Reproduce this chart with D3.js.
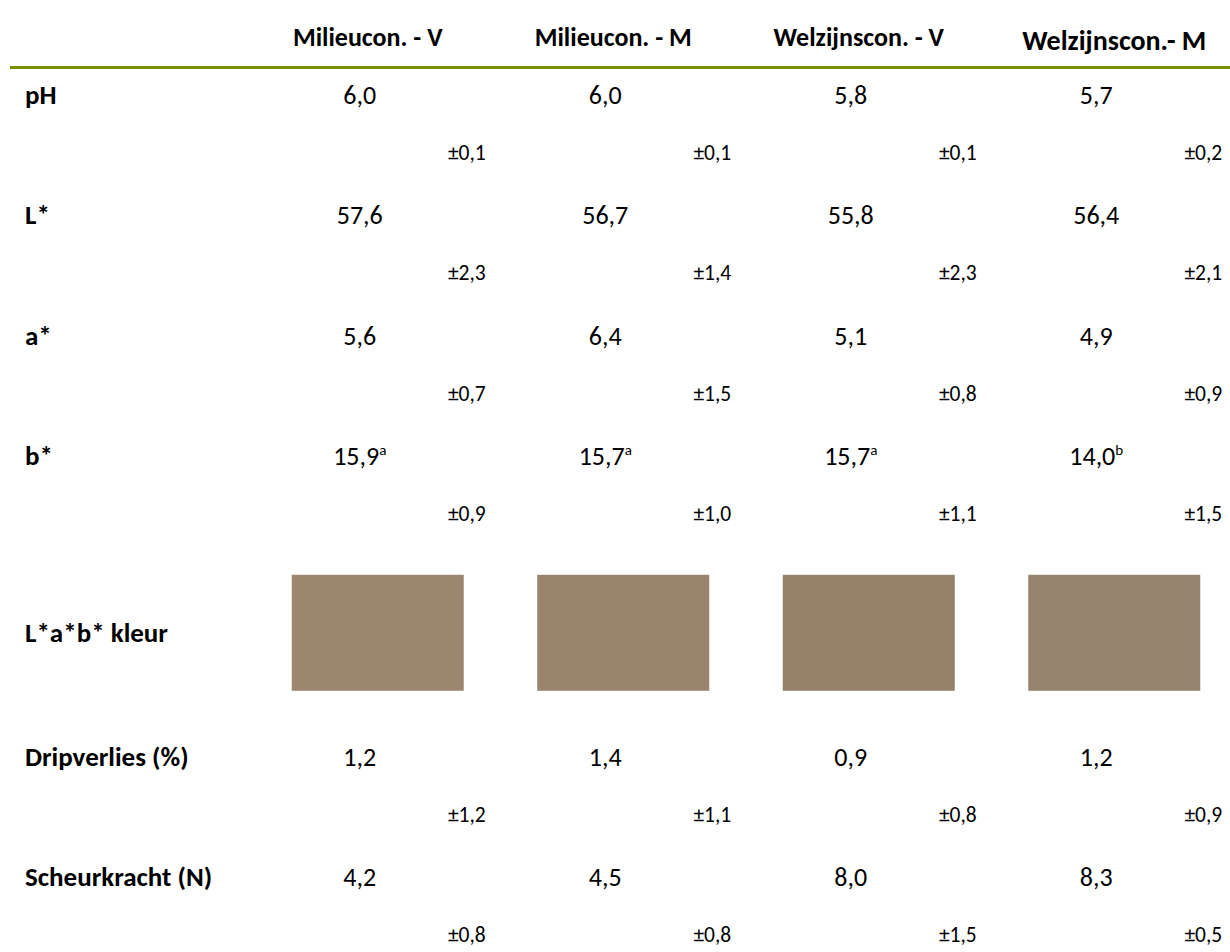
<!DOCTYPE html>
<html>
<head>
<meta charset="utf-8">
<script src="https://cdn.jsdelivr.net/npm/d3@7"></script>
<style>
  html, body { margin: 0; padding: 0; background: #fff; }
  svg { display: block; }
  text { font-family: Carlito, Calibri, Lato, "Open Sans", sans-serif; fill: #000; }
</style>
</head>
<body>
<svg id="chart" width="1230" height="952"></svg>
<script>
// ---- data ----
const groups = ["Milieucon. - V", "Milieucon. - M", "Welzijnscon. - V", "Welzijnscon.- M"];
const rowLabels = ["pH", "L*", "a*", "b*", "L*a*b* kleur", "Dripverlies (%)", "Scheurkracht (N)"];
const pH     = [6.0, 6.0, 5.8, 5.7];
const pH_sd  = [0.1, 0.1, 0.1, 0.2];
const Lstar  = [57.6, 56.7, 55.8, 56.4];
const L_sd   = [2.3, 1.4, 2.3, 2.1];
const astar  = [5.6, 6.4, 5.1, 4.9];
const a_sd   = [0.7, 1.5, 0.8, 0.9];
const bstar  = [15.9, 15.7, 15.7, 14.0];
const b_sd   = [0.9, 1.0, 1.1, 1.5];
const b_sup  = ["a", "a", "a", "b"];
const drip   = [1.2, 1.4, 0.9, 1.2];
const drip_sd= [1.2, 1.1, 0.8, 0.9];
const scheur = [4.2, 4.5, 8.0, 8.3];
const scheur_sd = [0.8, 0.8, 1.5, 0.5];

const rows = [
  {label: rowLabels[0], mean: pH, sd: pH_sd},
  {label: rowLabels[1], mean: Lstar, sd: L_sd},
  {label: rowLabels[2], mean: astar, sd: a_sd},
  {label: rowLabels[3], mean: bstar, sd: b_sd, sup: b_sup},
  {label: rowLabels[4], swatch: true},
  {label: rowLabels[5], mean: drip, sd: drip_sd},
  {label: rowLabels[6], mean: scheur, sd: scheur_sd}
];

const fmt = v => d3.format(".1f")(v).replace(".", ",");

const svg = d3.select("#chart");
const x = d3.scaleBand().domain(groups).range([255, 1237]);
const cx = d3.scaleOrdinal().domain(groups).range(groups.map(g => x(g) + x.bandwidth() / 2));
// row baselines: value row + sd row per unit, swatch row spans more
const y = d3.scaleLinear().domain([0, 6.5]).range([104, 886]);
const rowPos = [0, 1, 2, 3, 4.47, 5.5, 6.5];

// header
svg.selectAll("text.hdr").data(groups).join("text")
  .attr("class", "hdr")
  .attr("x", (d, i) => cx(d) + (i === 3 ? 0 : -10))
  .attr("y", (d, i) => i === 3 ? 50 : 46)
  .attr("text-anchor", "middle")
  .attr("font-weight", "bold")
  .attr("font-size", (d, i) => i === 3 ? 28 : 26)
  .text(d => d);

svg.append("line")
  .attr("x1", 10).attr("x2", 1230)
  .attr("y1", 67.5).attr("y2", 67.5)
  .attr("stroke", "#789100").attr("stroke-width", 3);

// row labels
svg.selectAll("text.rl").data(rowLabels).join("text")
  .attr("class", "rl")
  .attr("x", 25)
  .attr("y", (d, i) => y(rowPos[i]))
  .attr("font-weight", "bold")
  .attr("font-size", 27)
  .text(d => d);

rows.forEach((r, ri) => {
  const yy = y(rowPos[ri]);
  if (r.swatch) {
    svg.selectAll(null).data(groups).join("rect")
      .attr("x", d => cx(d) - 86)
      .attr("y", yy - 67)
      .attr("width", 172)
      .attr("height", 116)
      .attr("fill", (d, i) => d3.lab(Lstar[i], astar[i], bstar[i]).formatHex());
    return;
  }
  const t = svg.selectAll(null).data(groups).join("text")
    .attr("x", d => cx(d) - 18)
    .attr("y", yy)
    .attr("text-anchor", "middle")
    .attr("font-size", 26);
  t.append("tspan").text((d, i) => fmt(r.mean[i]));
  if (r.sup) {
    t.append("tspan").attr("font-size", 15).attr("dy", -10).text((d, i) => r.sup[i]);
  }
  svg.selectAll(null).data(groups).join("text")
    .attr("x", d => cx(d) + 108)
    .attr("y", yy + 56)
    .attr("text-anchor", "end")
    .attr("font-size", 21.5)
    .text((d, i) => "±" + fmt(r.sd[i]));
});
</script>
</body>
</html>
